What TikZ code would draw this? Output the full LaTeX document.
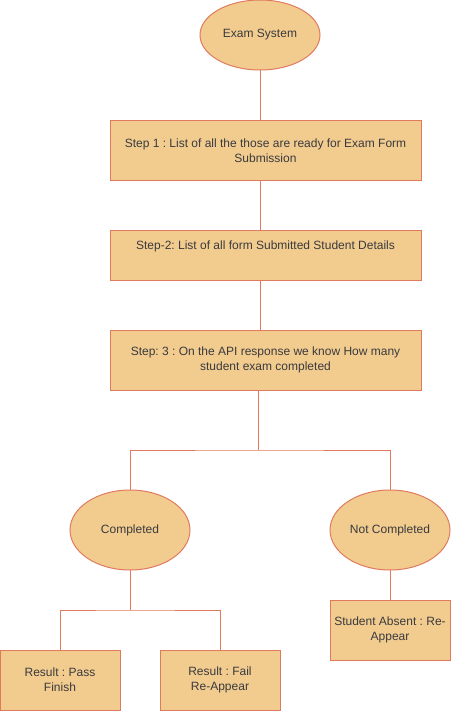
\documentclass[tikz,border=0pt]{standalone}
\usepackage{fontspec}
\setmainfont{Liberation Sans}
\usepackage{xcolor}
\usetikzlibrary{shapes.geometric, positioning, calc}

\definecolor{boxfill}{HTML}{F2CC8F}
\definecolor{boxline}{HTML}{E07A5F}
\definecolor{boxtext}{HTML}{3A3A3E}
\frenchspacing

\begin{document}
\begin{tikzpicture}[
    x=0.75pt, y=-0.75pt,
    shape base/.style={
        fill=boxfill, draw=boxline, line width=0.75pt, inner sep=0pt, outer sep=0pt,
        text centered, align=center, font=\fontsize{9}{11.25}\selectfont, text=boxtext
    },
    stepbox/.style={shape base, rectangle, minimum width=233.25pt, minimum height=45pt},
    smallbox/.style={shape base, rectangle, minimum width=90pt, minimum height=45pt},
    state/.style={shape base, ellipse, minimum width=90pt, minimum height=60pt},
    link/.style={draw=boxline, line width=0.75pt}
]
\useasboundingbox (0,0) rectangle (451,711);

% Start
\node[state, minimum height=52.5pt] (exam) at (260,35) {Exam System};

% Steps
\node[stepbox] (step1) at (265.5,150.5) {Step 1 : List of all the those are ready for Exam Form\\Submission};
\node[stepbox, minimum height=37.5pt] (step2) at (265.5,255) {Step-2: List of all form Submitted Student Details\\\strut};
\node[stepbox] (step3) at (265.5,360) {Step: 3 : On the API response we know How many\\student exam completed};

% Lines down the middle
\draw[link] (exam.south) -- (exam.south |- step1.north);
\draw[link] (exam.south |- step1.south) -- (exam.south |- step2.north);
\draw[link] (exam.south |- step2.south) -- (exam.south |- step3.north);

% Split into two states
\node[state] (completed) at (130,530) {Completed};
\node[state] (notdone) at (390,530) {Not Completed};

\coordinate (split) at (258,450);
\draw[link] (split |- step3.south) -- (split);
\draw[link] (completed.north) |- (split) -| (notdone.north);

% Results
\node[smallbox] (pass) at (60,680) {Result : Pass\\Finish};
\node[smallbox] (fail) at (220,680) {Result : Fail\\Re-Appear};
\node[smallbox] (absent) at (390,630) {Student Absent : Re-\\Appear};

\coordinate (split2) at (130,610);
\draw[link] (completed.south) -- (split2);
\draw[link] (pass.north) |- (split2) -| (fail.north);

\draw[link] (notdone.south) -- (absent.north);

\end{tikzpicture}
\end{document}
